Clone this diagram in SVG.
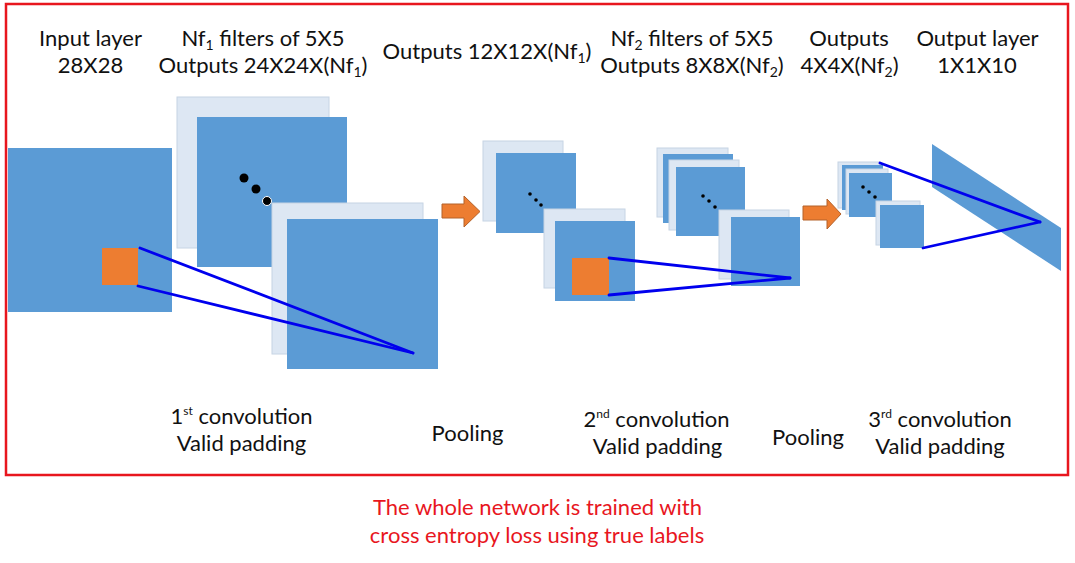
<svg xmlns="http://www.w3.org/2000/svg" width="1075" height="563" viewBox="0 0 1075 563">
<style>
.fm{fill:#5b9bd5;}
.bk{fill:#dde7f3;stroke:#c6d4e4;stroke-width:1;}
.or{fill:#ed7d31;}
.arw{fill:#ed7d31;stroke:#b4622a;stroke-width:1;}
.ln{stroke:#0000ee;stroke-width:2.8;fill:none;stroke-linecap:round;}
.t{font-family:Lato,"Liberation Sans",sans-serif;font-size:22px;fill:#111;text-anchor:middle;}
.r{fill:#e8161e;}
.dot{fill:#000;}
</style>
<rect x="6" y="4" width="1062" height="471" fill="#fff" stroke="#e8161e" stroke-width="2.5"/>

<g id="input">
<rect class="fm" x="8" y="148" width="164" height="164"/>
<rect class="or" x="102" y="248" width="36" height="37"/>
</g>

<g id="conv1">
<rect class="bk" x="177" y="97" width="152" height="151"/>
<rect class="fm" x="197" y="117" width="150" height="150"/>
<rect class="bk" x="272" y="203" width="151" height="151"/>
<rect class="fm" x="287" y="219" width="151" height="150"/>
<circle class="dot" cx="244" cy="178" r="4.5"/>
<circle class="dot" cx="256" cy="189" r="4.5"/>
<circle class="dot" cx="267" cy="201" r="4.5" stroke="#fff" stroke-width="1"/>
</g>

<g id="pool1">
<rect class="bk" x="483" y="141" width="80" height="80"/>
<rect class="fm" x="496" y="153" width="80" height="80"/>
<rect class="bk" x="544" y="209" width="81" height="79"/>
<rect class="fm" x="555" y="221" width="80" height="80"/>
<rect class="or" x="572" y="258" width="37" height="37"/>
<circle class="dot" cx="530" cy="194" r="1.8"/>
<circle class="dot" cx="536" cy="200" r="1.8"/>
<circle class="dot" cx="541" cy="205" r="1.8"/>
</g>

<g id="conv2">
<rect class="bk" x="657" y="148" width="71" height="69"/>
<rect class="fm" x="663" y="154" width="70" height="69"/>
<rect class="bk" x="669" y="160" width="70" height="70"/>
<rect class="fm" x="676" y="167" width="69" height="69"/>
<rect class="bk" x="719" y="210" width="70" height="69"/>
<rect class="fm" x="731" y="217" width="69" height="69"/>
<circle class="dot" cx="703" cy="196" r="1.8"/>
<circle class="dot" cx="709" cy="201" r="1.8"/>
<circle class="dot" cx="715" cy="207" r="1.8"/>
</g>

<g id="pool2">
<rect class="bk" x="838" y="162" width="42" height="46"/>
<rect class="fm" x="842" y="165" width="41" height="45"/>
<rect class="bk" x="846" y="169" width="42" height="45"/>
<rect class="fm" x="849" y="173" width="43" height="44"/>
<rect class="bk" x="876" y="201" width="44" height="44"/>
<rect class="fm" x="880" y="205" width="44" height="43"/>
<circle class="dot" cx="863" cy="187" r="1.8"/>
<circle class="dot" cx="869" cy="192" r="1.8"/>
<circle class="dot" cx="875" cy="197" r="1.8"/>
</g>

<g id="output">
<polygon class="fm" points="932,144 1061,228 1061,271 932,187"/>
</g>

<g id="connectors">
<line class="ln" x1="140" y1="248" x2="413" y2="353"/>
<line class="ln" x1="138" y1="286" x2="413" y2="353"/>
<line class="ln" x1="609" y1="258" x2="790" y2="278"/>
<line class="ln" x1="609" y1="295" x2="790" y2="278"/>
<line class="ln" x1="880" y1="163" x2="1040" y2="222"/>
<line class="ln" x1="923" y1="248" x2="1040" y2="222"/>
<polygon class="arw" points="442,204 464,204 464,196 480,211.5 464,227 464,218 442,218"/>
<polygon class="arw" points="803,206 827,206 827,199 841,214 827,229 827,220 803,220"/>
</g>

<g id="labels">
<text class="t" x="90.5" y="46">Input layer</text>
<text class="t" x="90.5" y="73">28X28</text>
<text class="t" x="263" y="46">Nf<tspan font-size="14" dy="4">1</tspan><tspan dy="-4"> filters of 5X5</tspan></text>
<text class="t" x="263" y="73">Outputs 24X24X(Nf<tspan font-size="14" dy="4">1</tspan><tspan dy="-4">)</tspan></text>
<text class="t" x="487" y="59">Outputs 12X12X(Nf<tspan font-size="14" dy="4">1</tspan><tspan dy="-4">)</tspan></text>
<text class="t" x="692" y="46">Nf<tspan font-size="14" dy="4">2</tspan><tspan dy="-4"> filters of 5X5</tspan></text>
<text class="t" x="692" y="73">Outputs 8X8X(Nf<tspan font-size="14" dy="4">2</tspan><tspan dy="-4">)</tspan></text>
<text class="t" x="849" y="46">Outputs</text>
<text class="t" x="849.5" y="73">4X4X(Nf<tspan font-size="14" dy="4">2</tspan><tspan dy="-4">)</tspan></text>
<text class="t" x="977.5" y="46">Output layer</text>
<text class="t" x="977" y="73">1X1X10</text>

<text class="t" x="241.5" y="424">1<tspan font-size="12" dy="-9">st</tspan><tspan dy="9"> convolution</tspan></text>
<text class="t" x="241.5" y="451">Valid padding</text>
<text class="t" x="467.5" y="441">Pooling</text>
<text class="t" x="656.5" y="427">2<tspan font-size="12" dy="-9">nd</tspan><tspan dy="9"> convolution</tspan></text>
<text class="t" x="657.5" y="454">Valid padding</text>
<text class="t" x="808" y="445">Pooling</text>
<text class="t" x="940" y="427">3<tspan font-size="12" dy="-9">rd</tspan><tspan dy="9"> convolution</tspan></text>
<text class="t" x="940" y="454">Valid padding</text>

<text class="t r" x="537.5" y="515">The whole network is trained with</text>
<text class="t r" x="537" y="543">cross entropy loss using true labels</text>
</g>
</svg>
